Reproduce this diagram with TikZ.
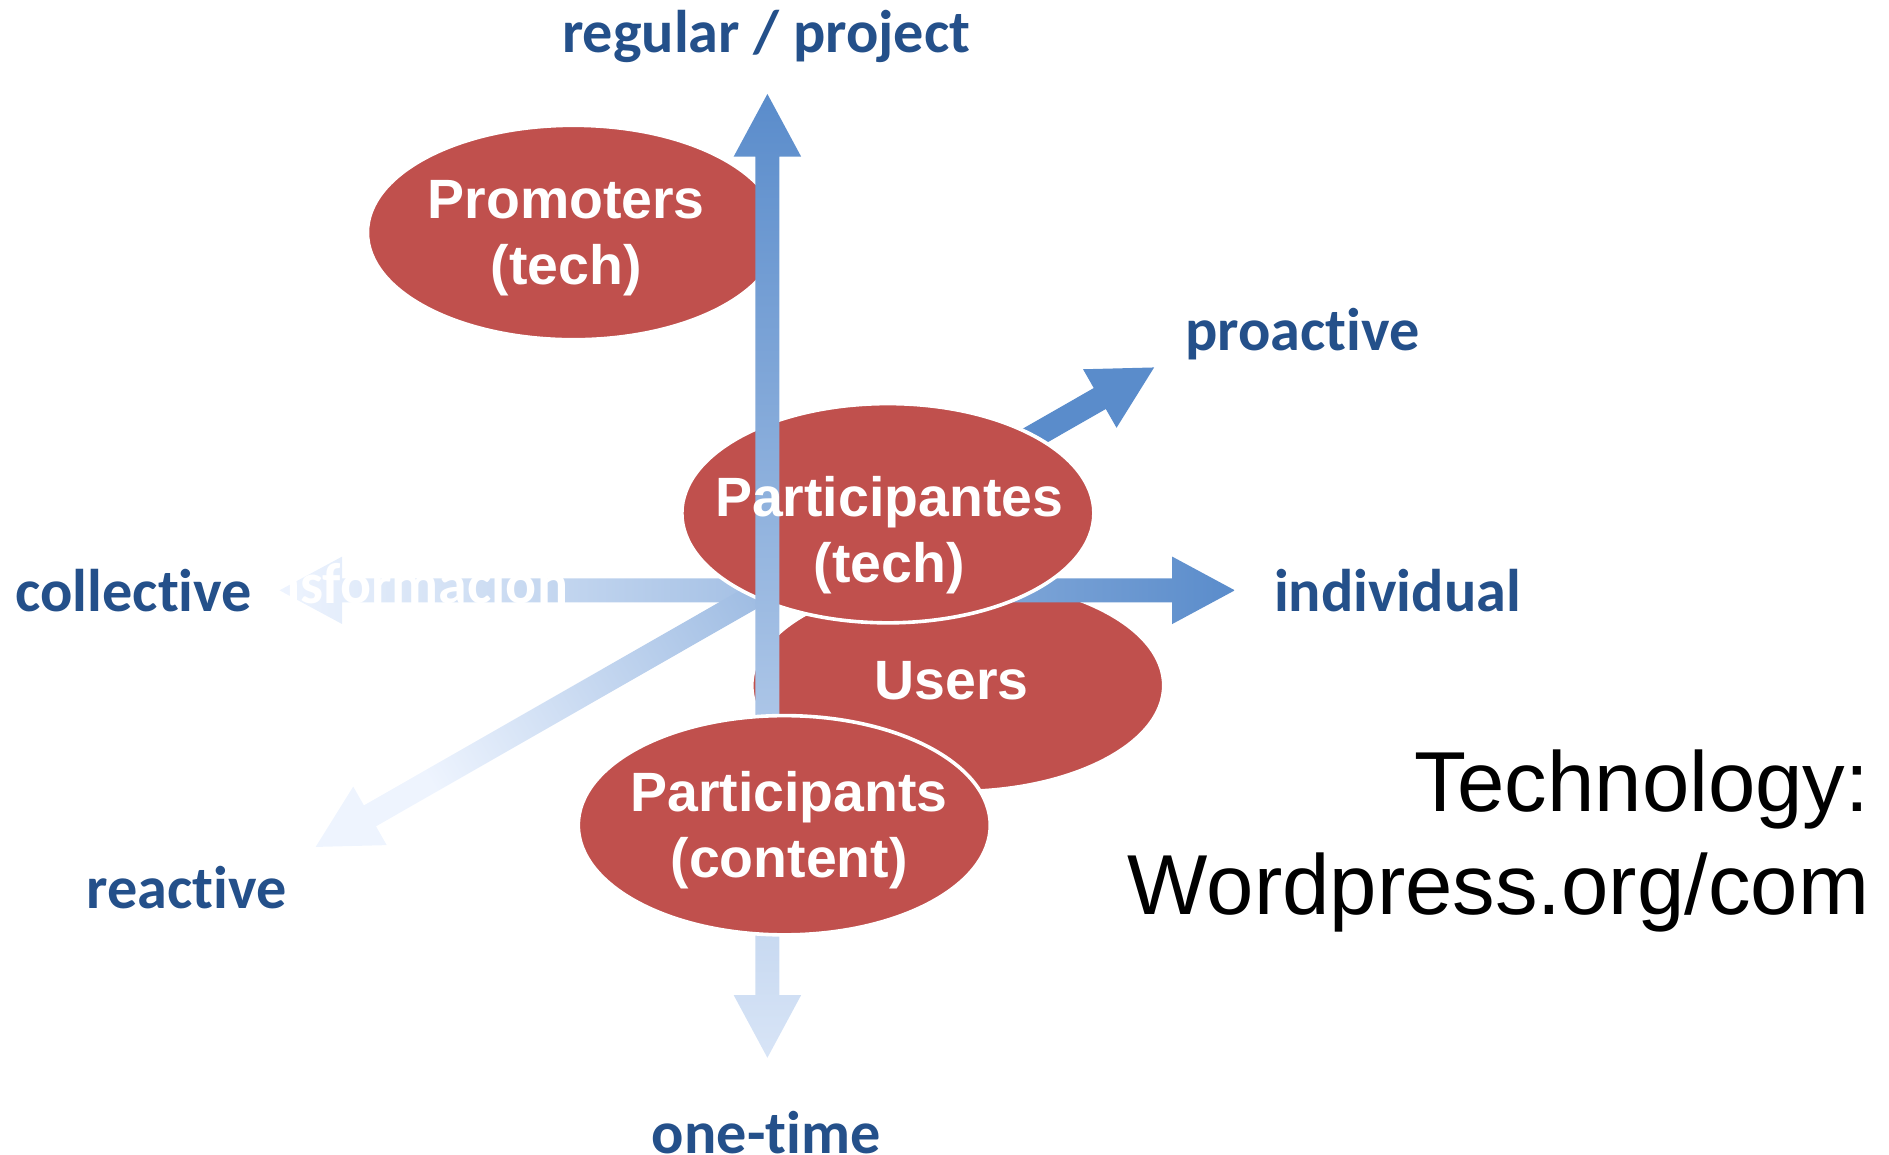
\documentclass[tikz,border=0pt]{standalone}
\usepackage{fontspec}
\setmainfont{Liberation Sans}
\newfontfamily\axisfont[Ligatures=CommonOff,Contextuals=AlternateOff]{Carlito}

\definecolor{ellred}{RGB}{192,80,77}
\definecolor{axisblue}{RGB}{36,80,138}
\definecolor{arrowdark}{RGB}{90,140,203}
\definecolor{arrowlight}{RGB}{238,244,254}

\tikzset{every picture/.style={line width=0.75pt}}
\tikzset{
	group/.style={fill=ellred, draw=white, line width=2.25pt},
	grouplabel/.style={text=white, inner sep=0pt, align=center,
		font=\fontsize{34.5}{41}\selectfont\bfseries},
	axislabel/.style={text=axisblue, inner sep=0pt,
		font=\axisfont\fontsize{37.5}{45}\selectfont\bfseries},
	hiddenlabel/.style={text=white, inner sep=0pt,
		font=\axisfont\fontsize{36}{42}\selectfont\bfseries},
	techlabel/.style={text=black, inner sep=0pt, align=right,
		font=\fontsize{53}{64}\selectfont}}

\begin{document}
\begin{tikzpicture}[x=0.75pt,y=0.75pt,yscale=-1,xscale=1]
	\useasboundingbox (0,0) rectangle (1568,958);

	% arrow tips
	\coordinate (top) at (637,78);
	\coordinate (bottom) at (637,878);
	\coordinate (left) at (232,490);
	\coordinate (right) at (1025,490);

	%Shape: Ellipse [Promoters]
	\draw[group] (476,193) ellipse [x radius=171, y radius=89];
	%Shape: Ellipse [Users]
	\draw[group] (795,569) ellipse [x radius=171, y radius=88];

	%Block Arrow: collective <-> individual
	\shade[left color=arrowlight, middle color=arrowlight!85!arrowdark, right color=arrowdark] (left) -- ++(52,-28) -- ++(0,18) -- ++(689,0) -- ++(0,-18) -- (right) -- ++(-52,28) -- ++(0,-18) -- ++(-689,0) -- ++(0,18) -- cycle;
	%Text Node (white, only seen on the arrow)
	\node[hiddenlabel, anchor=east] (transf) at (472,484) {Transformación};
	%Block Arrow: reactive <-> proactive
	\shade[top color=arrowdark, middle color=arrowlight!85!arrowdark, bottom color=arrowlight, shading angle=-60] (262,703) -- (321.0,701.5) -- (312.1,685.9) -- (917.9,339.5) -- (926.8,355.1) -- (958,305) -- (899.0,306.5) -- (907.9,322.1) -- (302.1,668.5) -- (293.2,652.9) -- cycle;

	%Shape: Ellipse [Participantes (tech)]
	\draw[group] (737,426) ellipse [x radius=171, y radius=91];

	%Block Arrow: one-time <-> regular / project
	\shade[top color=arrowdark, bottom color=arrowlight!85!arrowdark] (top) -- ++(28,52) -- ++(-18,0) -- ++(0,696) -- ++(18,0) -- (bottom) -- ++(-28,-52) -- ++(18,0) -- ++(0,-696) -- ++(-18,0) -- cycle;

	%Shape: Ellipse [Participants (content)]
	\draw[group] (651,685) ellipse [x radius=171, y radius=91];

	% Text Node
	\node[grouplabel] (promoters) at (470,198) {Promoters\\(tech)};
	% Text Node
	\node[grouplabel] (partech) at (738,444) {Participantes\\(tech)};
	% Text Node
	\node[grouplabel] (users) at (790,565) {Users};
	% Text Node
	\node[grouplabel] (parcontent) at (655,689) {Participants\\(content)};

	% Text Node
	\node[axislabel] (regular) at (636,30) {regular / project};
	% Text Node
	\node[axislabel] (proactive) at (1081,277) {proactive};
	% Text Node
	\node[axislabel] (individual) at (1160,490) {individual};
	% Text Node
	\node[axislabel] (collective) at (111,490) {collective};
	% Text Node
	\node[axislabel] (reactive) at (155,737) {reactive};
	% Text Node
	\node[axislabel] (onetime) at (636,940) {one-time};
	% Text Node
	\node[techlabel, anchor=east] (tech) at (1552,698) {Technology:\\Wordpress.org/com};
\end{tikzpicture}
\end{document}
